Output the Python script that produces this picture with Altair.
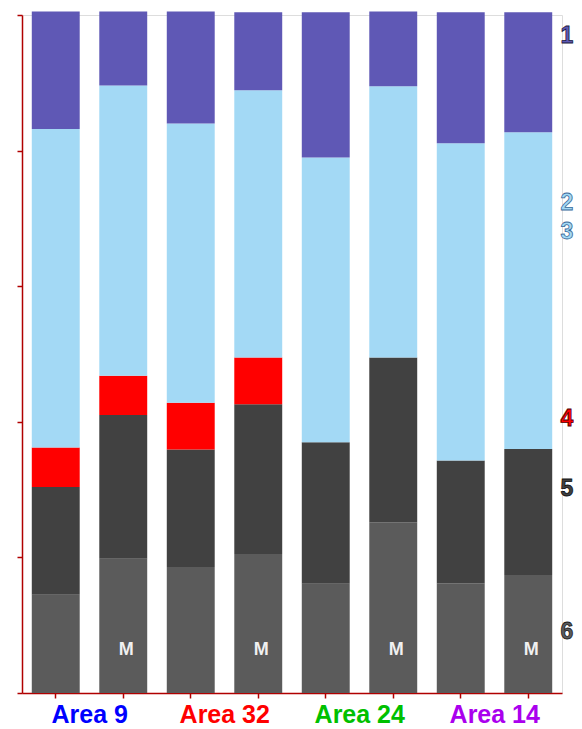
import altair as alt
import pandas as pd

bars = ["b1", "b2", "b3", "b4", "b5", "b6", "b7", "b8"]
layers = ["6", "5", "4", "2-3", "1"]
layer_colors = ["#5b5b5b", "#414141", "#ff0000", "#a3d9f5", "#5f58b5"]

# segment heights (percent) per layer, bottom to top
seg6 = [14.5, 19.8, 18.6, 20.5, 16.1, 25.2, 16.2, 17.4]
seg5 = [15.9, 21.2, 17.3, 22.1, 20.9, 24.3, 18.1, 18.6]
seg4 = [5.8, 5.8, 6.9, 6.9, 0.0, 0.0, 0.0, 0.0]
seg23 = [47.0, 42.8, 41.2, 39.4, 42.0, 40.0, 46.8, 46.7]
seg1 = [17.3, 10.9, 16.5, 11.5, 21.4, 11.0, 19.3, 17.7]

m_bars = ["b2", "b4", "b6", "b8"]

group_first = ["b1", "b3", "b5", "b7"]
group_names = ["Area 9", "Area 32", "Area 24", "Area 14"]
group_colors = ["#0000ff", "#ff0000", "#00c000", "#aa00ee"]

side_labels = ["1", "2", "3", "4", "5", "6"]
side_pos = [96.9, 72.3, 68.0, 40.4, 30.1, 9.0]
side_fill = ["#5f58b5", "#a3d9f5", "#a3d9f5", "#ff0000", "#414141", "#5b5b5b"]
side_stroke = ["#1a1a40", "#3a6a9a", "#3a6a9a", "#500000", "#111111", "#1a1a1a"]

axis_red = "#b00000"

rows = []
for li, (lname, seg) in enumerate(zip(layers, [seg6, seg5, seg4, seg23, seg1])):
    for b, v in zip(bars, seg):
        rows.append({"bar": b, "layer": lname, "order": li, "value": v})
df = pd.DataFrame(rows)

W, H = 540, 678

xenc = alt.X(
    "bar:N", sort=bars,
    scale=alt.Scale(domain=bars, paddingInner=0.29, paddingOuter=0.145),
    axis=alt.Axis(labels=False, title=None, ticks=True, tickSize=5, tickColor=axis_red,
                  tickWidth=1.5, domainColor=axis_red, domainWidth=1.5, grid=False),
)

bar_layer = alt.Chart(df).mark_bar().encode(
    x=xenc,
    y=alt.Y("value:Q", stack="zero",
            scale=alt.Scale(domain=[0, 100], nice=False, zero=True),
            axis=alt.Axis(values=[0, 20, 40, 60, 80, 100], labels=False, title=None,
                          tickSize=5, tickColor=axis_red, tickWidth=1.5,
                          domainColor=axis_red, domainWidth=1.5, grid=False)),
    color=alt.Color("layer:N", scale=alt.Scale(domain=layers, range=layer_colors), legend=None),
    order=alt.Order("order:Q"),
)

m_df = pd.DataFrame({"bar": m_bars, "t": ["M"] * len(m_bars)})
m_layer = alt.Chart(m_df).mark_text(
    font="Liberation Sans", fontWeight="bold", fontSize=18, color="#f0f0f0",
    baseline="middle", dx=3,
).encode(x=alt.X("bar:N", sort=bars), y=alt.value(635), text="t:N")

g_df = pd.DataFrame({"bar": group_first, "name": group_names, "col": group_colors})
g_layer = alt.Chart(g_df).mark_text(
    font="Liberation Sans", fontWeight="bold", fontSize=25, baseline="alphabetic",
    align="center", dx=34,
).encode(x=alt.X("bar:N", sort=bars), y=alt.value(708), text="name:N",
         fill=alt.Fill("col:N", scale=None))

s_df = pd.DataFrame({"t": side_labels, "pos": side_pos, "f": side_fill, "s": side_stroke})
s_layer = alt.Chart(s_df).mark_text(
    font="Liberation Sans", fontWeight="bold", fontSize=23, baseline="middle",
    align="center", strokeWidth=0.8,
).encode(x=alt.value(545), y=alt.Y("pos:Q"), text="t:N",
         fill=alt.Fill("f:N", scale=None), stroke=alt.Stroke("s:N", scale=None))

chart = alt.layer(bar_layer, m_layer, g_layer, s_layer).properties(
    width=W, height=H,
    autosize=alt.AutoSizeParams(type="none"),
    padding={"left": 14, "top": 7, "right": 12, "bottom": 36},
).configure_view(stroke=None).configure(background="white")

chart.save("out.html", embed_options={"renderer": "svg", "actions": False})
